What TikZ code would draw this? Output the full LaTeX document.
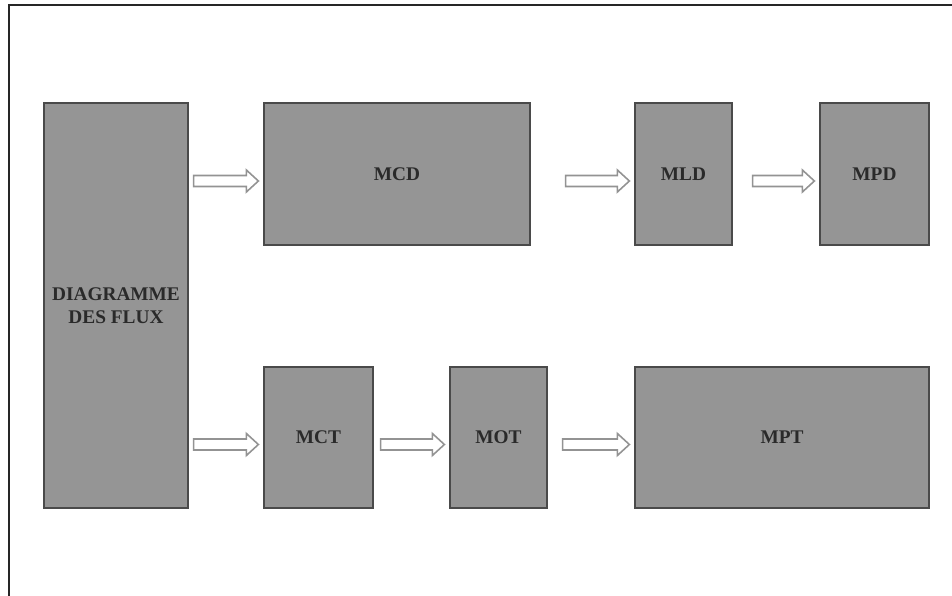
\documentclass[tikz,border=0pt]{standalone}
\usepackage{fontspec}
\setmainfont{Liberation Serif}
\usetikzlibrary{calc}

\definecolor{boxgray}{HTML}{959595}
\definecolor{edgegray}{HTML}{4A4A4A}
\definecolor{arrgray}{HTML}{939393}
\definecolor{txtgray}{HTML}{2A2A2A}

\tikzset{
  modele/.style={draw=edgegray, line width=0.7pt, fill=boxgray, inner sep=0pt,
    font=\bfseries\fontsize{11}{13}\selectfont, text=txtgray, align=center},
  flow/.style={draw=arrgray, line width=0.9pt, fill=white, line join=miter}
}

% hollow arrow from node #2 to node #3, #1 = gap after #2
\newcommand{\flowarrow}[3][0.1]{%
  \coordinate (s) at ($(#2.east |- #3.west)+(#1,-0.14)$);
  \coordinate (e) at ($(#3.west)+(-0.1,-0.14)$);
  \draw[flow] ($(s)+(0,0.11)$) -- ($(e)+(-0.24,0.11)$) -- ($(e)+(-0.24,0.22)$)
    -- (e) -- ($(e)+(-0.24,-0.22)$) -- ($(e)+(-0.24,-0.11)$)
    -- ($(s)+(0,-0.11)$) -- cycle;}

\begin{document}
\begin{tikzpicture}
\useasboundingbox (0,0) rectangle (19.04,-11.92);
% cadre
\draw[line width=1.5pt, black!85] (0.18,-11.92) -- (0.18,-0.1) -- (19.04,-0.1);

\node[modele, minimum width=2.88cm, minimum height=8.1cm] (flux) at (2.32,-6.11) {DIAGRAMME\\DES FLUX};
\node[modele, minimum width=5.32cm, minimum height=2.84cm] (mcd) at (7.94,-3.48) {MCD};
\node[modele, minimum width=1.94cm, minimum height=2.84cm] (mld) at (13.67,-3.48) {MLD};
\node[modele, minimum width=2.18cm, minimum height=2.84cm] (mpd) at (17.49,-3.48) {MPD};
\node[modele, minimum width=2.18cm, minimum height=2.82cm] (mct) at (6.37,-8.75) {MCT};
\node[modele, minimum width=1.94cm, minimum height=2.82cm] (mot) at (9.97,-8.75) {MOT};
\node[modele, minimum width=5.88cm, minimum height=2.82cm] (mpt) at (15.64,-8.75) {MPT};

\flowarrow{flux}{mcd}
\flowarrow[0.7]{mcd}{mld}
\flowarrow[0.4]{mld}{mpd}
\flowarrow{flux}{mct}
\flowarrow[0.14]{mct}{mot}
\flowarrow[0.3]{mot}{mpt}
\end{tikzpicture}
\end{document}
